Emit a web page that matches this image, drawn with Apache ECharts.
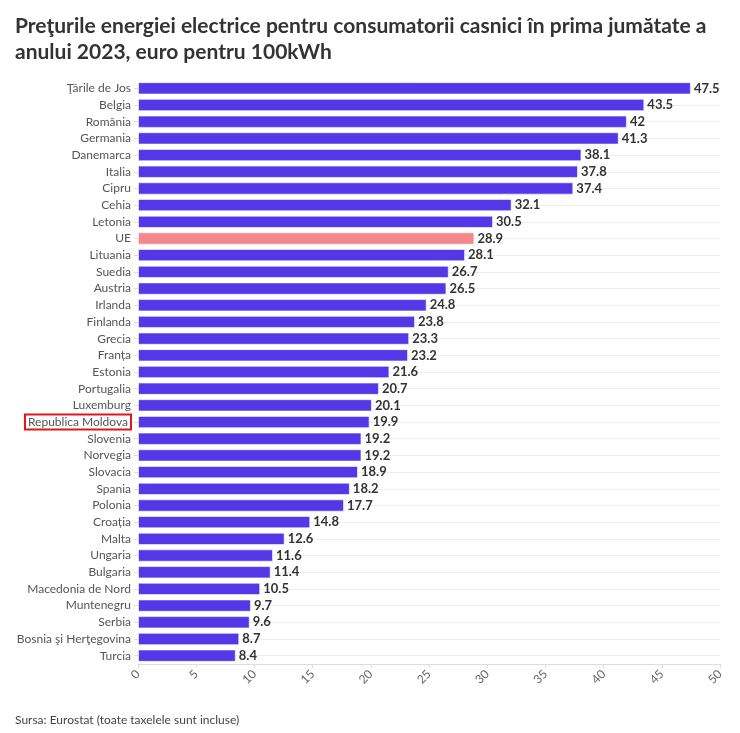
<!DOCTYPE html>
<html>
<head>
<meta charset="utf-8">
<script src="https://cdn.jsdelivr.net/npm/echarts@6/dist/echarts.min.js"></script>
<style>
  html, body { margin: 0; padding: 0; background: #fff; }
  #chart { width: 740px; height: 733px; }
</style>
</head>
<body>
<div id="chart"></div>
<script>
// date: pretul energiei, euro / 100kWh, S1 2023
const countries = [
  'Ţările de Jos', 'Belgia', 'România', 'Germania', 'Danemarca', 'Italia', 'Cipru',
  'Cehia', 'Letonia', 'UE', 'Lituania', 'Suedia', 'Austria', 'Irlanda', 'Finlanda',
  'Grecia', 'Franța', 'Estonia', 'Portugalia', 'Luxemburg', 'Republica Moldova',
  'Slovenia', 'Norvegia', 'Slovacia', 'Spania', 'Polonia', 'Croația', 'Malta',
  'Ungaria', 'Bulgaria', 'Macedonia de Nord', 'Muntenegru', 'Serbia',
  'Bosnia şi Herţegovina', 'Turcia'
];
const prices = [
  47.5, 43.5, 42, 41.3, 38.1, 37.8, 37.4, 32.1, 30.5, 28.9, 28.1, 26.7, 26.5, 24.8,
  23.8, 23.3, 23.2, 21.6, 20.7, 20.1, 19.9, 19.2, 19.2, 18.9, 18.2, 17.7, 14.8, 12.6,
  11.6, 11.4, 10.5, 9.7, 9.6, 8.7, 8.4
];
const xTicks = [0, 5, 10, 15, 20, 25, 30, 35, 40, 45, 50];

const highlightEU = 'UE';
const highlightMD = 'Republica Moldova';

const chart = echarts.init(document.getElementById('chart'));
chart.setOption({
  animation: false,
  textStyle: { fontFamily: 'Lato, sans-serif' },
  title: [{
    text: 'Preţurile energiei electrice pentru consumatorii casnici în prima jumătate a\nanului 2023, euro pentru 100kWh',
    left: 10, top: 8,
    textStyle: { fontSize: 21, fontWeight: 'bold', color: '#333', lineHeight: 26, fontFamily: 'Lato, sans-serif' }
  }, {
    text: 'Sursa: Eurostat (toate taxelele sunt incluse)',
    left: 10, top: 709,
    textStyle: { fontSize: 12, fontWeight: 'normal', color: '#444', fontFamily: 'Lato, sans-serif' }
  }],
  grid: { left: 138, right: 20, top: 80, bottom: 69 },
  xAxis: {
    type: 'value',
    min: xTicks[0],
    max: xTicks[xTicks.length - 1],
    interval: 5,
    axisLine: { show: true, lineStyle: { color: '#ddd' } },
    axisTick: { show: true, length: 4, lineStyle: { color: '#ddd' } },
    splitLine: { show: false },
    axisLabel: { rotate: 45, color: '#666', fontSize: 12, margin: 8 }
  },
  yAxis: {
    type: 'category',
    inverse: true,
    data: countries,
    axisLine: { show: false },
    axisTick: { show: true, alignWithLabel: true, length: 4, lineStyle: { color: '#ddd' } },
    splitLine: { show: true, alignWithLabel: true, lineStyle: { color: '#eee', width: 1 } },
    axisLabel: {
      color: '#555', fontSize: 12, margin: 7,
      formatter: v => v === highlightMD ? '{md|' + v + '}' : v,
      rich: {
        md: {
          color: '#555', fontSize: 12, fontFamily: 'Lato, sans-serif',
          borderColor: '#e0161b', borderWidth: 2, padding: [2, 3, 1, 3]
        }
      }
    }
  },
  series: [{
    type: 'bar',
    data: prices.map((v, i) => ({
      value: v,
      itemStyle: { color: countries[i] === highlightEU ? '#f4868c' : '#5438e8' }
    })),
    barCategoryGap: '26%',
    itemStyle: { borderColor: 'rgba(255,255,255,0.6)', borderWidth: 1 },
    label: {
      show: true, position: 'right', distance: 3,
      color: '#333', fontWeight: 'bold', fontSize: 13
    }
  }]
});
</script>
</body>
</html>
